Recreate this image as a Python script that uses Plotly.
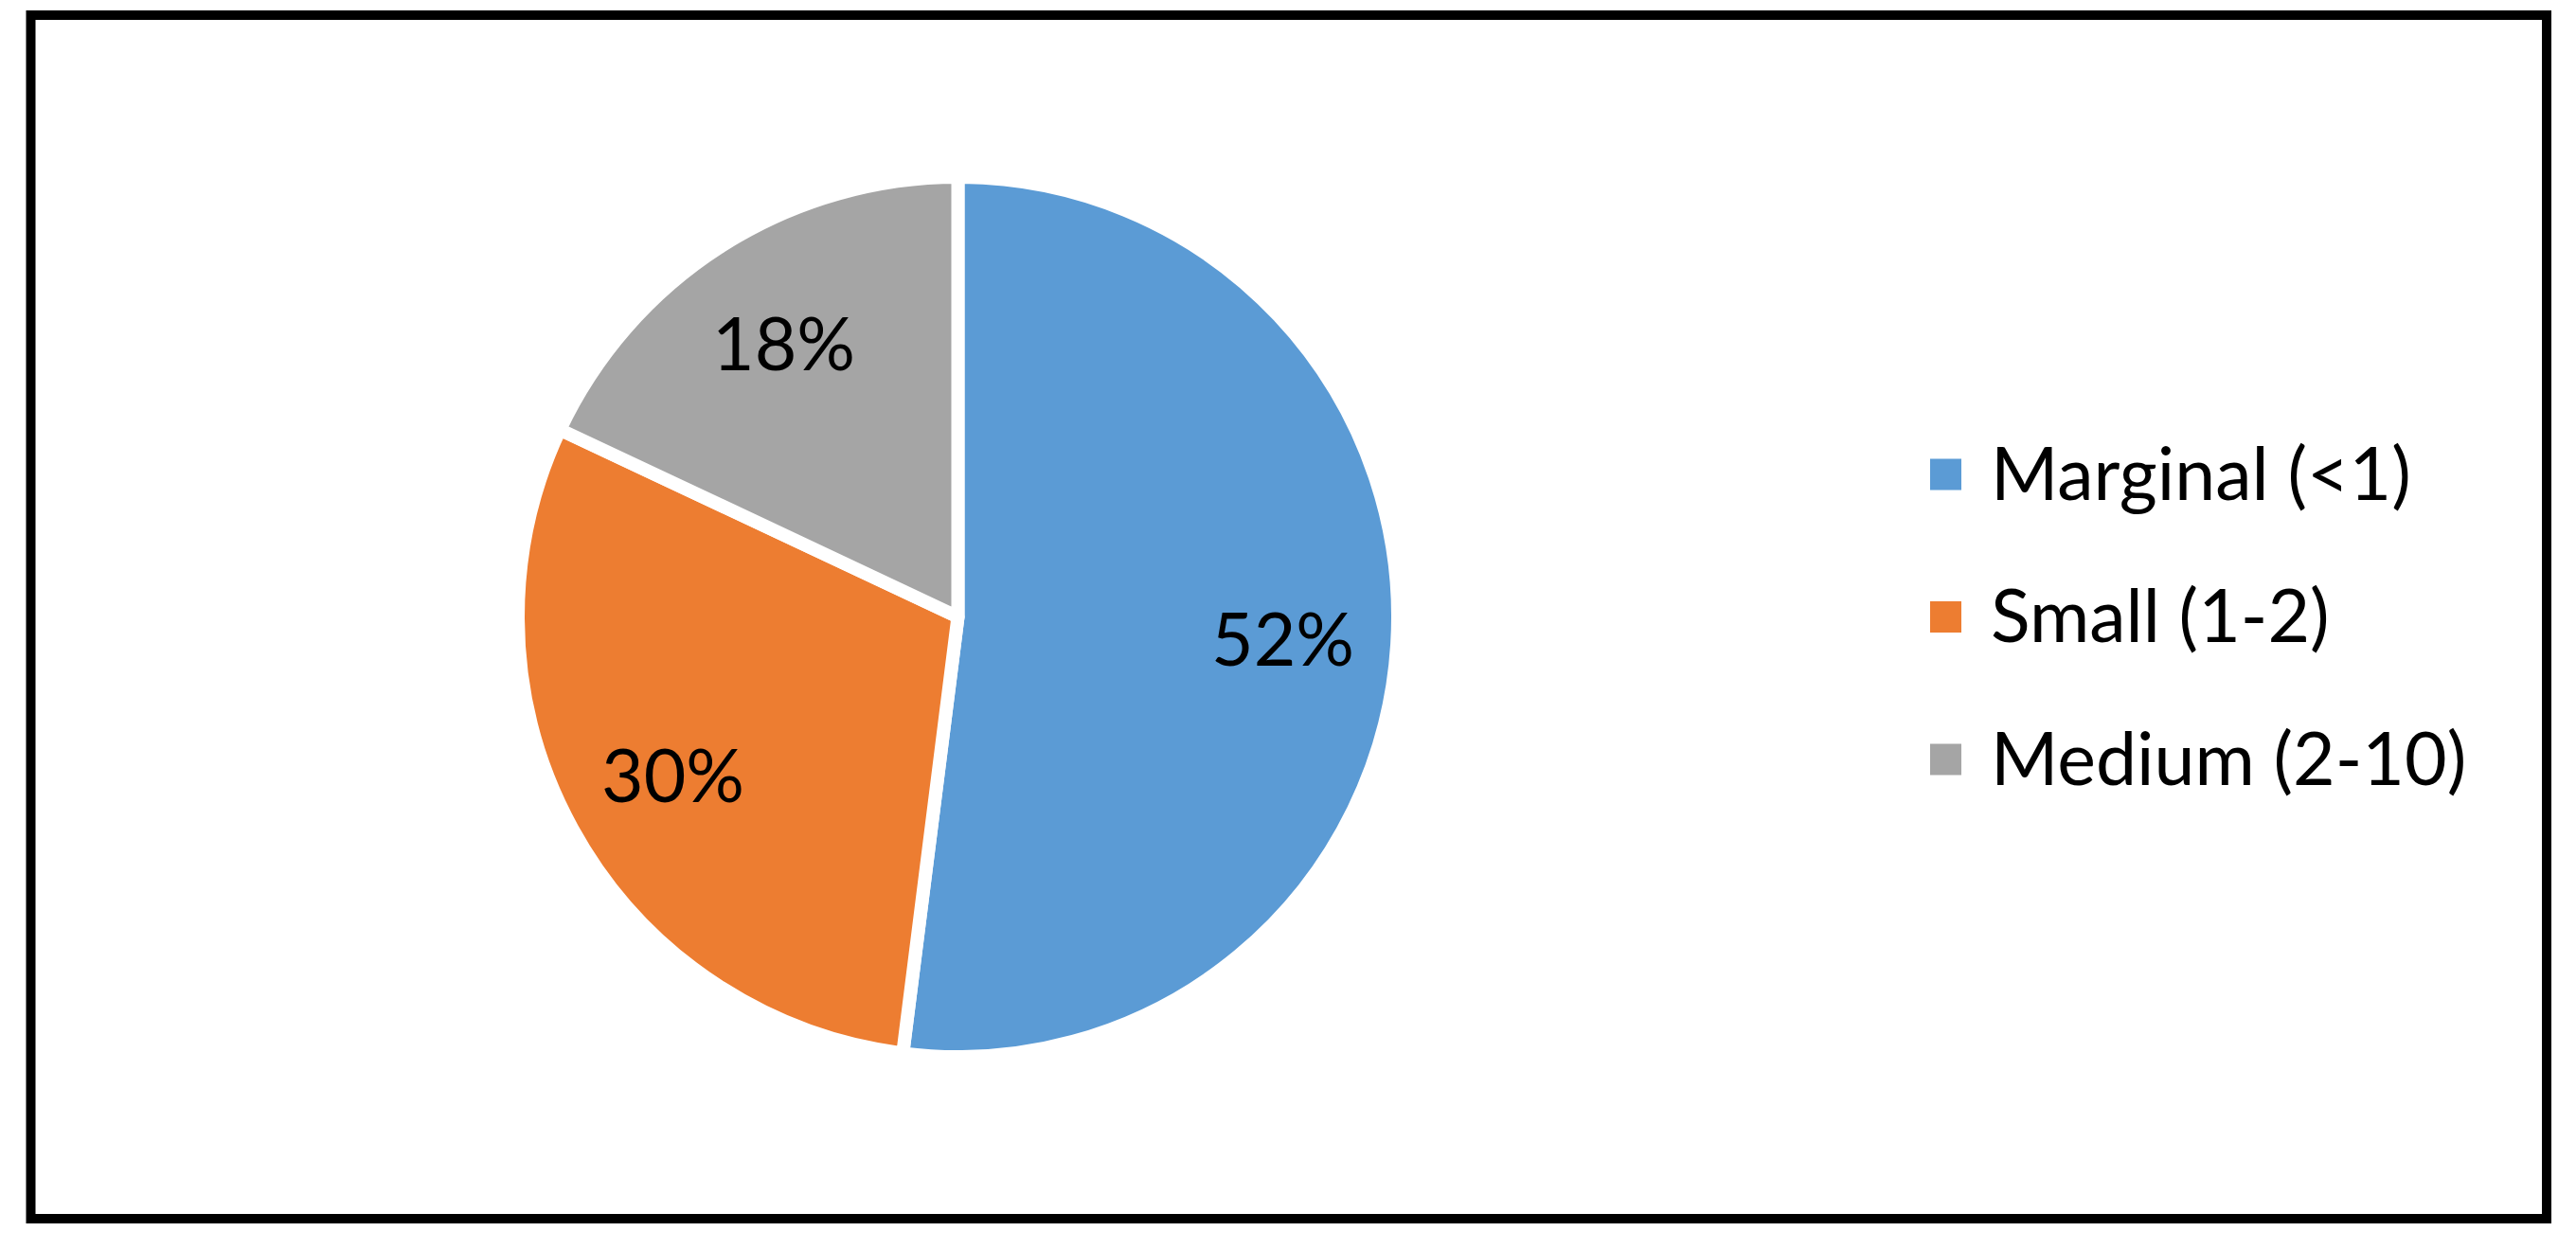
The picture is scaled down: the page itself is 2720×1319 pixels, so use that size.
import math
import plotly.graph_objects as go

categories = ["Marginal (<1)", "Small (1-2)", "Medium (2-10)"]
shares = [52, 30, 18]
colors = ["#5B9BD5", "#ED7D31", "#A5A5A5"]

# page body has an 8px margin; the figure is sized to fit the window
W, H = 2712, 1311
FONT = "Lato"
FS = 77

# pie geometry (pixels, figure coordinates)
cx, cy, R = 1003.5, 643.5, 464.5


def px(x):
    return x / W


def py(y):
    return 1 - y / H


fig = go.Figure()
fig.add_trace(go.Pie(
    labels=categories,
    values=shares,
    sort=False,
    direction="clockwise",
    rotation=0,
    marker=dict(colors=colors, line=dict(color="white", width=14)),
    textinfo="none",
    domain=dict(x=[px(cx - R), px(cx + R)], y=[py(cy + R), py(cy - R)]),
    showlegend=False,
    hoverinfo="label+percent",
))

annotations = []
shapes = []

# data labels at the middle angle of every slice (Excel-like placement)
total = sum(shares)
acc = 0
lab_r = 0.74 * R
for v in shares:
    mid = (acc + v / 2) / total * 2 * math.pi
    acc += v
    x = cx + lab_r * math.sin(mid)
    y = cy - lab_r * math.cos(mid)
    annotations.append(dict(text=f"{round(100 * v / total)}%", xref="paper", yref="paper",
                            x=px(x), y=py(y), xanchor="center", yanchor="middle",
                            showarrow=False,
                            font=dict(family=FONT, size=FS, color="black")))

# custom legend (large square keys like the original)
leg_x_sq = 2030
sq = 33
leg_text_x = 2092
leg_y0 = 493
leg_dy = 150.5
for i, (cat, col) in enumerate(zip(categories, colors)):
    yc = leg_y0 + i * leg_dy
    shapes.append(dict(type="rect", xref="paper", yref="paper",
                       x0=px(leg_x_sq), x1=px(leg_x_sq + sq),
                       y0=py(yc + sq / 2), y1=py(yc - sq / 2),
                       fillcolor=col, line=dict(width=0)))
    annotations.append(dict(text=cat, xref="paper", yref="paper",
                            x=px(leg_text_x), y=py(yc - 3),
                            xanchor="left", yanchor="middle", showarrow=False,
                            font=dict(family=FONT, size=FS, color="black")))

# outer frame
shapes.append(dict(type="rect", xref="paper", yref="paper",
                   x0=px(24.5), x1=px(2681), y0=py(1279), y1=py(8),
                   line=dict(color="black", width=10), fillcolor="rgba(0,0,0,0)"))

fig.update_layout(
    width=W, height=H,
    margin=dict(l=0, r=0, t=0, b=0),
    paper_bgcolor="white", plot_bgcolor="white",
    shapes=shapes, annotations=annotations,
    showlegend=False,
)

fig.write_html("out.html")
